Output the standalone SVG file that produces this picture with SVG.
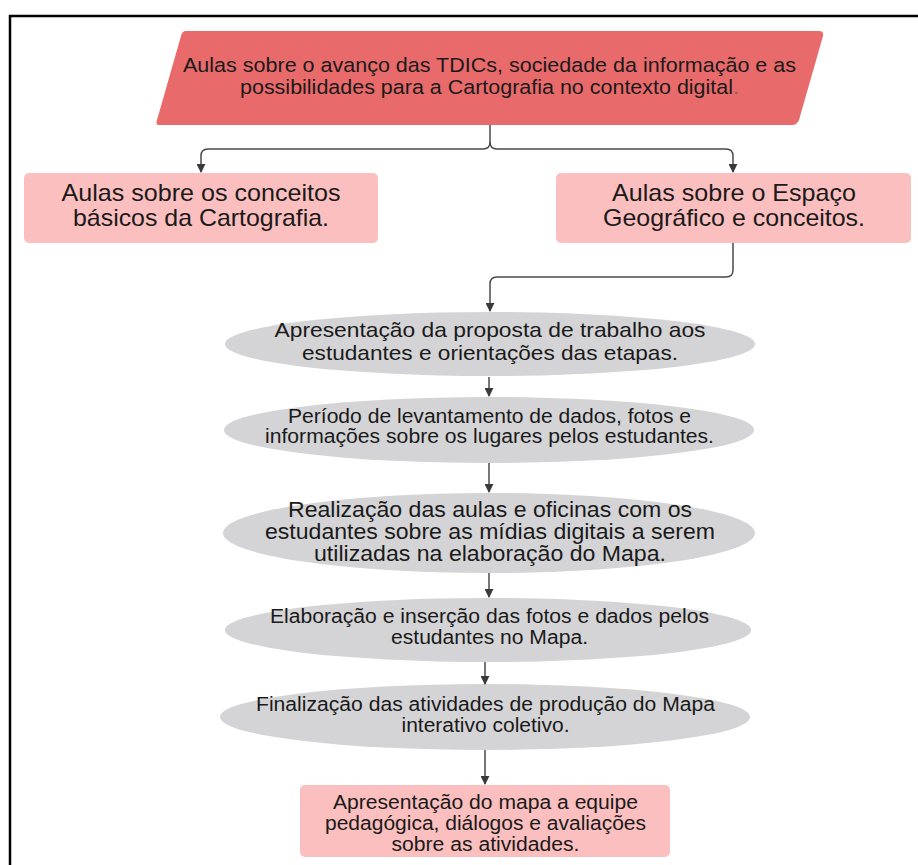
<svg xmlns="http://www.w3.org/2000/svg" width="918" height="865" viewBox="0 0 918 865">
<defs>
<style>
text{font-family:"Liberation Sans",Arial,sans-serif;fill:#1a1a1a;text-anchor:middle}
.pink{fill:#fbbfbf}
.grey{fill:#d4d4d6}
.c{fill:none;stroke:#4a4a4a;stroke-width:1.5}
</style>
<marker id="ah" viewBox="0 0 10 10" refX="9" refY="5" markerWidth="9" markerHeight="9" markerUnits="userSpaceOnUse" orient="auto">
<path d="M0,0 L10,5 L0,10 z" fill="#3a3a3a"/>
</marker>
</defs>
<rect width="918" height="865" fill="#ffffff"/>
<path d="M10,865 V16 H918" fill="none" stroke="#000" stroke-width="2.5"/>

<g id="n-top">
<path d="M186,31 H819 Q824,31 823,36 L799,120 Q797,125 792,125 H160 Q155,125 157,120 L181,36 Q182,31 186,31 Z" fill="#e96a6b"/>
<text x="489.5" y="72" font-size="20.5" textLength="613" lengthAdjust="spacingAndGlyphs">Aulas sobre o avanço das TDICs, sociedade da informação e as</text>
<text x="489.5" y="94" font-size="20.5" textLength="499" lengthAdjust="spacingAndGlyphs">possibilidades para a Cartografia no contexto digital<tspan fill="#6b6b6b">.</tspan></text>
</g>

<g id="n-left">
<rect class="pink" x="24" y="173" width="354" height="70" rx="5"/>
<text x="201" y="201" font-size="24" textLength="279" lengthAdjust="spacingAndGlyphs">Aulas sobre os conceitos</text>
<text x="201" y="226" font-size="24" textLength="256" lengthAdjust="spacingAndGlyphs">básicos da Cartografia.</text>
</g>

<g id="n-right">
<rect class="pink" x="556" y="173" width="355" height="70" rx="5"/>
<text x="734" y="201" font-size="24" textLength="244" lengthAdjust="spacingAndGlyphs">Aulas sobre o Espaço</text>
<text x="734" y="226" font-size="24" textLength="262" lengthAdjust="spacingAndGlyphs">Geográfico e conceitos.</text>
</g>

<g id="n-e1">
<ellipse class="grey" cx="490" cy="344" rx="265" ry="32"/>
<text x="490" y="337" font-size="21" textLength="431" lengthAdjust="spacingAndGlyphs">Apresentação da proposta de trabalho aos</text>
<text x="490" y="360" font-size="21" textLength="376" lengthAdjust="spacingAndGlyphs">estudantes e orientações das etapas.</text>
</g>

<g id="n-e2">
<ellipse class="grey" cx="489" cy="430" rx="265" ry="33"/>
<text x="489.5" y="423" font-size="19.5" textLength="403" lengthAdjust="spacingAndGlyphs">Período de levantamento de dados, fotos e</text>
<text x="489.5" y="443" font-size="19.5" textLength="449" lengthAdjust="spacingAndGlyphs">informações sobre os lugares pelos estudantes.</text>
</g>

<g id="n-e3">
<ellipse class="grey" cx="489" cy="533" rx="266" ry="40"/>
<text x="490" y="517" font-size="21.5" textLength="404" lengthAdjust="spacingAndGlyphs">Realização das aulas e oficinas com os</text>
<text x="490" y="539" font-size="21.5" textLength="450" lengthAdjust="spacingAndGlyphs">estudantes sobre as mídias digitais a serem</text>
<text x="490" y="561" font-size="21.5" textLength="352" lengthAdjust="spacingAndGlyphs">utilizadas na elaboração do Mapa.</text>
</g>

<g id="n-e4">
<ellipse class="grey" cx="488" cy="630" rx="263" ry="32"/>
<text x="489.5" y="623" font-size="19.5" textLength="439" lengthAdjust="spacingAndGlyphs">Elaboração e inserção das fotos e dados pelos</text>
<text x="489.5" y="644" font-size="19.5" textLength="197" lengthAdjust="spacingAndGlyphs">estudantes no Mapa.</text>
</g>

<g id="n-e5">
<ellipse class="grey" cx="485" cy="717" rx="265" ry="33"/>
<text x="485.5" y="711" font-size="20" textLength="459" lengthAdjust="spacingAndGlyphs">Finalização das atividades de produção do Mapa</text>
<text x="485.5" y="732" font-size="20" textLength="168" lengthAdjust="spacingAndGlyphs">interativo coletivo.</text>
</g>

<g id="n-final">
<rect class="pink" x="300" y="785" width="370" height="72" rx="5"/>
<text x="485.5" y="809" font-size="19.5" textLength="305" lengthAdjust="spacingAndGlyphs">Apresentação do mapa a equipe</text>
<text x="485.5" y="830" font-size="19.5" textLength="321" lengthAdjust="spacingAndGlyphs">pedagógica, diálogos e avaliações</text>
<text x="485.5" y="851" font-size="19.5" textLength="188" lengthAdjust="spacingAndGlyphs">sobre as atividades.</text>
</g>

<g id="connectors">
<path class="c" d="M490,125 V142 Q490,149 483,149 H208 Q201,149 201,156 V172" marker-end="url(#ah)"/>
<path class="c" d="M490,142 Q490,149 497,149 H726 Q733,149 733,156 V172" marker-end="url(#ah)"/>
<path class="c" d="M733,243 V270 Q733,277 726,277 H497 Q490,277 490,284 V311" marker-end="url(#ah)"/>
<path class="c" d="M489,377 V396" marker-end="url(#ah)"/>
<path class="c" d="M489,463 V492" marker-end="url(#ah)"/>
<path class="c" d="M489,573 V597" marker-end="url(#ah)"/>
<path class="c" d="M485,662 V684" marker-end="url(#ah)"/>
<path class="c" d="M485,750 V784" marker-end="url(#ah)"/>
</g>
</svg>
